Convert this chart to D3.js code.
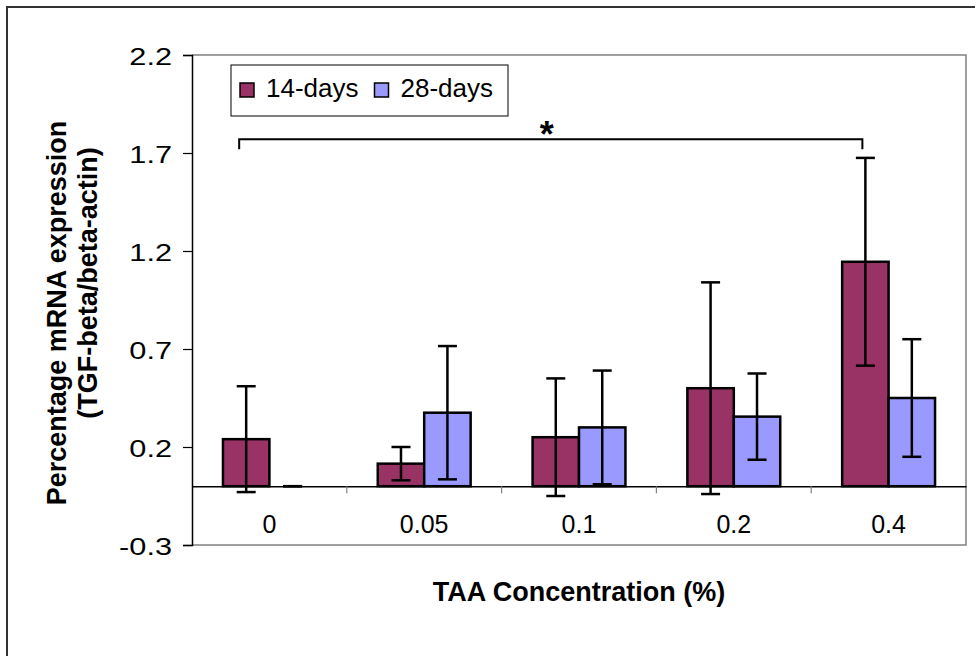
<!DOCTYPE html>
<html>
<head>
    <meta charset="utf-8">
    <title>TGF-beta mRNA expression</title>
    <script src="https://d3js.org/d3.v7.min.js"></script>
    <style>
        body { margin: 0; background: #fff; }
        text { font-family: "Liberation Sans", Arial, sans-serif; fill: #000; }
    </style>
</head>
<body>
    <svg width="975" height="656"></svg>
    <script>
        // data
        var categories = ["0", "0.05", "0.1", "0.2", "0.4"];
        var days14 = [0.24, 0.115, 0.25, 0.50, 1.145];
        var err14 = [0.27, 0.085, 0.30, 0.54, 0.53];
        var days28 = [0, 0.375, 0.30, 0.355, 0.45];
        var err28 = [0, 0.34, 0.29, 0.22, 0.30];
        var seriesNames = ["14-days", "28-days"];
        var seriesColors = ["#993366", "#9999FF"];
        var yTicks = [-0.3, 0.2, 0.7, 1.2, 1.7, 2.2];
        var sigFrom = "0", sigTo = "0.4", sigLevel = 1.77;

        var svg = d3.select("svg");

        var pL = 192, pR = 966, pT = 55, pB = 545;

        var x = d3.scaleBand().domain(categories).range([pL, pR]);
        var y = d3.scaleLinear().domain([-0.3, 2.2]).range([pB, pT]);
        var bw = x.bandwidth() * 0.3;
        var fmt = function(d) { return d.toFixed(1); };

        // outer frame
        svg.append("rect")
            .attr("x", 7).attr("y", 7)
            .attr("width", 1000).attr("height", 700)
            .attr("fill", "none")
            .attr("stroke", "#333")
            .attr("stroke-width", 2);

        // plot area border
        svg.append("path")
            .attr("d", "M" + pL + "," + pT + "H" + pR + "V" + pB + "H" + pL)
            .attr("fill", "none")
            .attr("stroke", "#808080")
            .attr("stroke-width", 1.5);

        // y axis
        var yAxis = d3.axisLeft(y).tickValues(yTicks).tickSize(9).tickFormat(fmt);
        var ya = svg.append("g").attr("transform", "translate(" + pL + ",0)").call(yAxis);
        ya.select(".domain").attr("stroke", "#000").attr("stroke-width", 1.5);
        ya.selectAll(".tick line").attr("stroke", "#000").attr("stroke-width", 1.2);
        ya.selectAll(".tick text").remove();
        ya.selectAll(".tick").append("text")
            .attr("transform", "translate(-20,9) scale(1.28,1)")
            .attr("text-anchor", "end")
            .style("font-size", "24px")
            .text(fmt);

        // zero line with category separators
        var xAxis = d3.axisBottom(x).tickSize(0).tickFormat("");
        var xa = svg.append("g").attr("transform", "translate(0," + y(0) + ")").call(xAxis);
        xa.select(".domain").attr("stroke", "#000").attr("stroke-width", 1.5);
        xa.selectAll(".sep")
            .data(categories.slice(1))
            .enter().append("line")
            .attr("class", "sep")
            .attr("x1", function(d) { return x(d); })
            .attr("x2", function(d) { return x(d); })
            .attr("y1", 0).attr("y2", 7)
            .attr("stroke", "#808080")
            .attr("stroke-width", 1.2);

        svg.selectAll(".xlab")
            .data(categories)
            .enter().append("text")
            .attr("class", "xlab")
            .attr("x", function(d) { return x(d) + x.bandwidth() / 2; })
            .attr("y", 533)
            .attr("text-anchor", "middle")
            .style("font-size", "25px")
            .text(function(d) { return d; });

        // bars
        var series = [days14, days28];
        var errs = [err14, err28];
        series.forEach(function(vals, s) {
            var rows = categories.map(function(c, i) {
                return { cat: c, v: vals[i], e: errs[s][i] };
            });
            var cx = function(d) { return x(d.cat) + x.bandwidth() / 2 - bw + s * bw; };

            svg.selectAll(".bar" + s)
                .data(rows.filter(function(d) { return d.v !== 0; }))
                .enter().append("rect")
                .attr("class", "bar" + s)
                .attr("x", cx)
                .attr("width", bw)
                .attr("y", function(d) { return y(Math.max(0, d.v)); })
                .attr("height", function(d) { return Math.abs(y(d.v) - y(0)); })
                .attr("fill", seriesColors[s])
                .attr("stroke", "#000")
                .attr("stroke-width", 2.5);

            var eb = svg.selectAll(".err" + s)
                .data(rows)
                .enter().append("g")
                .attr("class", "err" + s)
                .attr("transform", function(d) { return "translate(" + (cx(d) + bw / 2) + ",0)"; })
                .attr("stroke", "#000")
                .attr("stroke-width", 2.5);
            eb.append("line")
                .attr("y1", function(d) { return y(d.v + d.e); })
                .attr("y2", function(d) { return y(d.v - d.e); });
            eb.append("line")
                .attr("x1", -9.5).attr("x2", 9.5)
                .attr("y1", function(d) { return y(d.v + d.e); })
                .attr("y2", function(d) { return y(d.v + d.e); });
            eb.append("line")
                .attr("x1", -9.5).attr("x2", 9.5)
                .attr("y1", function(d) { return y(d.v - d.e); })
                .attr("y2", function(d) { return y(d.v - d.e); });
        });

        // significance bracket
        var bx1 = x(sigFrom) + x.bandwidth() / 2 - bw / 2 - 7;
        var bx2 = x(sigTo) + x.bandwidth() / 2 - bw / 2 - 3;
        var by = y(sigLevel);
        svg.append("path")
            .attr("d", "M" + bx1 + "," + (by + 10) + "V" + by + "H" + bx2 + "V" + (by + 10))
            .attr("fill", "none")
            .attr("stroke", "#000")
            .attr("stroke-width", 2);
        svg.append("text")
            .attr("x", (bx1 + bx2) / 2 - 4)
            .attr("y", by + 8)
            .attr("text-anchor", "middle")
            .style("font-size", "36px")
            .style("font-weight", "bold")
            .text("*");

        // legend
        var lg = svg.append("g").attr("transform", "translate(231,65)");
        lg.append("rect")
            .attr("width", 277).attr("height", 51)
            .attr("fill", "#fff")
            .attr("stroke", "#000")
            .attr("stroke-width", 1);
        var li = lg.selectAll(".li")
            .data(seriesNames)
            .enter().append("g")
            .attr("class", "li")
            .attr("transform", function(d, i) { return "translate(" + (9 + i * 134.5) + ",0)"; });
        li.append("rect")
            .attr("y", 18).attr("width", 14).attr("height", 14)
            .attr("fill", function(d, i) { return seriesColors[i]; })
            .attr("stroke", "#000")
            .attr("stroke-width", 1.5);
        li.append("text")
            .attr("x", 26).attr("y", 32)
            .style("font-size", "26px")
            .text(function(d) { return d; });

        // axis titles
        svg.append("text")
            .attr("transform", "translate(66,313) rotate(-90)")
            .attr("text-anchor", "middle")
            .style("font-size", "27px")
            .style("font-weight", "bold")
            .text("Percentage mRNA expression");
        svg.append("text")
            .attr("transform", "translate(97,283) rotate(-90)")
            .attr("text-anchor", "middle")
            .style("font-size", "27px")
            .style("font-weight", "bold")
            .text("(TGF-beta/beta-actin)");
        svg.append("text")
            .attr("x", (pL + pR) / 2)
            .attr("y", 601)
            .attr("text-anchor", "middle")
            .style("font-size", "27px")
            .style("font-weight", "bold")
            .text("TAA Concentration (%)");
    </script>
</body>
</html>
